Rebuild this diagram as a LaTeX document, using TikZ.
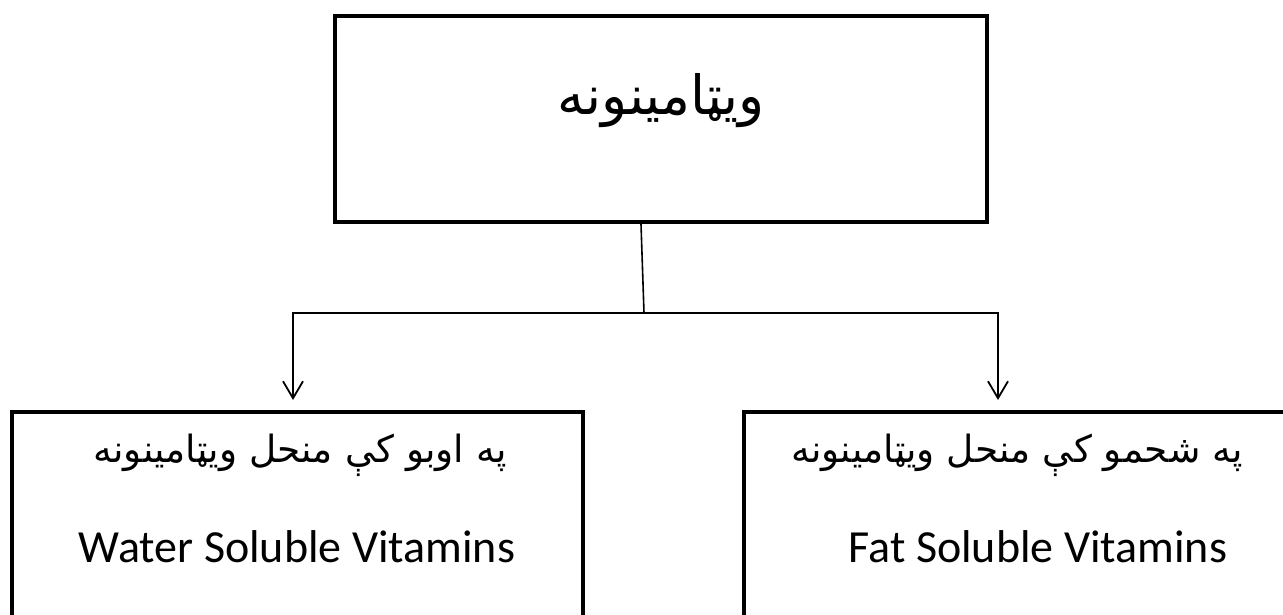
\documentclass[tikz,border=0pt]{standalone}
\usepackage{fontspec}
\setmainfont{Carlito}
\newfontfamily\arabicfont[Script=Arabic]{DejaVu Sans}
\TeXXeTstate=1
\usetikzlibrary{arrows.meta}
\begin{document}
\begin{tikzpicture}[x=1pt,y=-1pt,
  box/.style={draw, line width=4pt, inner sep=0pt},
  conn/.style={line width=1.6pt},
  arr/.style={line width=1.8pt, -{Straight Barb[length=17pt,width=20pt]}},
  ptext/.style={font=\arabicfont\fontsize{37.5}{42}\selectfont, anchor=base, inner sep=0pt},
  ttext/.style={font=\arabicfont\fontsize{54}{60}\selectfont, anchor=base, inner sep=0pt},
  etext/.style={font=\fontsize{46}{52}\selectfont, anchor=base, inner sep=0pt}]
\useasboundingbox (0,0) rectangle (1283,615);
\fill[white] (0,0) rectangle (1283,615);
\clip (0,0) rectangle (1283,615);
% boxes
\node[box, minimum width=652pt, minimum height=206pt] (top) at (661,119) {};
\node[box, minimum width=571pt, minimum height=388pt] (left) at (297.5,606) {};
\node[box, minimum width=571pt, minimum height=388pt] (right) at (1029.5,606) {};
% texts
\node[ttext] (toptext) at (661,115) {\beginR ويټامينونه\endR};
\node[ptext] (lefttext) at (300,462) {\beginR په اوبو کې منحل ويټامينونه\endR};
\node[etext] (leftenglish) at (297,562) {Water Soluble Vitamins};
\node[ptext] (righttext) at (1017,462) {\beginR په شحمو کې منحل ويټامينونه\endR};
\node[etext] (rightenglish) at (1038,562) {Fat Soluble Vitamins};
% connectors
\coordinate (split) at (644,313);
\coordinate (lend) at (293,400);
\coordinate (rend) at (998,400);
\draw[conn] ([xshift=-20pt]top.south) -- (split);
\draw[arr] (split) -| (lend);
\draw[arr] (split) -| (rend);
\end{tikzpicture}
\end{document}
